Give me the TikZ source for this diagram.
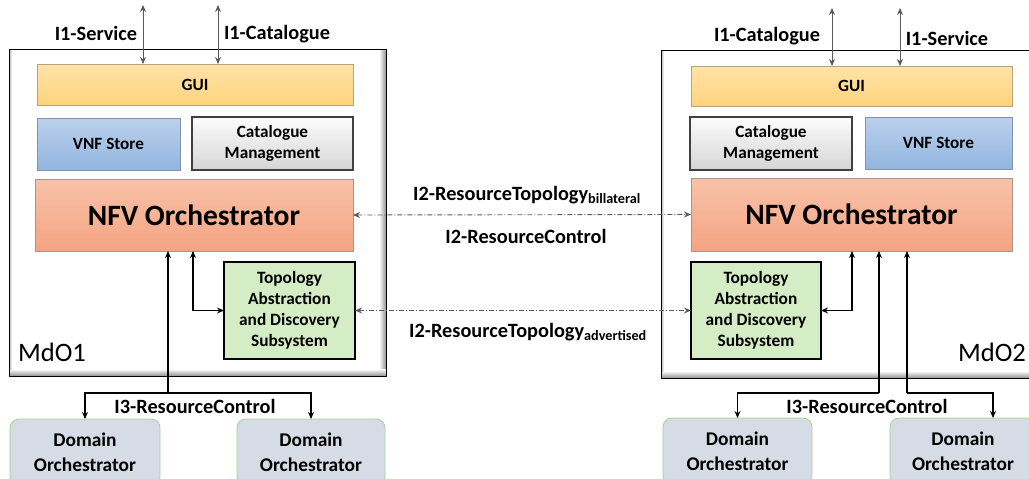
\documentclass[tikz,border=0pt]{standalone}
\usepackage{fontspec}
\setmainfont{Carlito}
\usetikzlibrary{arrows.meta,calc}

\definecolor{guiTop}{HTML}{FFE3A8}
\definecolor{guiBot}{HTML}{FFD37C}
\definecolor{guiLine}{HTML}{B8A27A}
\definecolor{vnfTop}{HTML}{BBD0EB}
\definecolor{vnfBot}{HTML}{92B5E0}
\definecolor{vnfLine}{HTML}{7F93AE}
\definecolor{catTop}{HTML}{FBFBFB}
\definecolor{catBot}{HTML}{D6D6D6}
\definecolor{nfvTop}{HTML}{F8C2A8}
\definecolor{nfvBot}{HTML}{F4A482}
\definecolor{nfvLine}{HTML}{A8958A}
\definecolor{topoFill}{HTML}{D5EDC5}
\definecolor{domFill}{HTML}{D6DCE5}
\definecolor{domLine}{HTML}{A9D18E}
\definecolor{linkGrey}{HTML}{5A5A5A}
\definecolor{bevel}{HTML}{9A9A9A}

\tikzset{
  base/.style={rectangle, anchor=north west, outer sep=0pt, inner sep=2pt,
    align=center, text=black, font=\fontsize{17.2}{21}\selectfont\bfseries},
  mdo/.style={rectangle, anchor=north west, outer sep=0pt, draw=black, line width=1pt, fill=white},
  guibox/.style={base, draw=guiLine, line width=0.8pt, top color=guiTop, bottom color=guiBot},
  vnfbox/.style={base, draw=vnfLine, line width=0.8pt, top color=vnfTop, bottom color=vnfBot},
  catbox/.style={base, draw=black!75, line width=1.8pt, top color=catTop, bottom color=catBot},
  nfvbox/.style={base, draw=nfvLine, line width=0.8pt, top color=nfvTop, bottom color=nfvBot,
    font=\fontsize{29.5}{34}\selectfont\bfseries},
  topobox/.style={base, draw=black, line width=2pt, fill=topoFill, font=\fontsize{17.3}{21}\selectfont\bfseries},
  dombox/.style={base, anchor=north, draw=domLine, line width=0.8pt, fill=domFill,
    rounded corners=9pt, minimum height=66pt, font=\fontsize{19.4}{25}\selectfont\bfseries},
  lbl/.style={font=\fontsize{20.3}{23}\selectfont\bfseries, inner sep=1pt},
  mdolbl/.style={font=\fontsize{26.6}{30}\selectfont, inner sep=1pt},
  tip/.style={-{Stealth[length=7pt,width=6pt]}},
  ext/.style={{Stealth[length=7pt,width=6pt]}-{Stealth[length=7pt,width=6pt]}, draw=linkGrey, line width=0.9pt},
  ctl/.style={draw=black, line width=1.4pt},
  peer/.style={{Stealth[length=7pt,width=6pt]}-{Stealth[length=7pt,width=6pt]}, draw=linkGrey,
    line width=0.9pt, dash pattern=on 5pt off 2pt on 1pt off 2pt},
}

% bevelled inner edge of an MdO frame: grey bands inside its right, bottom and left sides
\newcommand{\mdobevel}[1]{%
  \shade[left color=white, right color=bevel] ($(#1.north east)+(-7,1)$) rectangle ($(#1.south east)+(-0.5,-0.5)$);
  \shade[top color=white, bottom color=bevel] ($(#1.south west)+(1,-7)$) rectangle ($(#1.south east)+(-0.5,-0.5)$);
  \shade[left color=black!25, right color=white] ($(#1.north west)+(0.5,0.5)$) rectangle ($(#1.south west)+(3,-7)$);
  \draw[black, line width=1pt] (#1.north west) rectangle (#1.south east);
}

\begin{document}
\begin{tikzpicture}[x=1pt,y=-1pt]
\useasboundingbox (0,0) rectangle (1029,479);
\clip (0,0) rectangle (1029,479);

% ---------- MdO1 ----------
\node[mdo, minimum width=377pt, minimum height=327pt] (mdoA) at (9,49) {};
\mdobevel{mdoA}
\node[guibox, minimum width=316pt, minimum height=41pt] (guiA) at (37,64) {GUI};
\node[vnfbox, minimum width=143pt, minimum height=52pt] (vnfA) at (37,118) {VNF Store};
\node[catbox, minimum width=161pt, minimum height=53pt] (catA) at (192,117) {Catalogue\\Management};
\node[nfvbox, minimum width=318pt, minimum height=72pt] (nfvA) at (35,179) {NFV Orchestrator};
\node[topobox, minimum width=131pt, minimum height=97pt] (topA) at (224,262) {Topology\\Abstraction\\and Discovery\\Subsystem};
\node[mdolbl] (mdoAlbl) at (52,352) {MdO1};

% ---------- MdO2 ----------
\node[mdo, minimum width=380pt, minimum height=328pt] (mdoB) at (661,50) {};
\mdobevel{mdoB}
\node[guibox, minimum width=321pt, minimum height=40pt] (guiB) at (691,66) {GUI};
\node[catbox, minimum width=162pt, minimum height=53pt] (catB) at (690,117) {Catalogue\\Management};
\node[vnfbox, minimum width=147pt, minimum height=52pt] (vnfB) at (865,117) {VNF Store};
\node[nfvbox, minimum width=321pt, minimum height=73pt] (nfvB) at (691,178) {NFV Orchestrator};
\node[topobox, minimum width=130pt, minimum height=97pt] (topB) at (691,262) {Topology\\Abstraction\\and Discovery\\Subsystem};
\node[mdolbl] (mdoBlbl) at (992,352) {MdO2};

% ---------- domain orchestrators ----------
\node[dombox, minimum width=150pt] (domA1) at (85,419) {Domain\\Orchestrator};
\node[dombox, minimum width=148pt] (domA2) at (311,419) {Domain\\Orchestrator};
\node[dombox, minimum width=149pt] (domB1) at (737.5,418) {Domain\\Orchestrator};
\node[dombox, minimum width=146pt] (domB2) at (963,418) {Domain\\Orchestrator};

% ---------- I1 interfaces ----------
\coordinate (svcA) at (143,5);
\coordinate (catTopA) at (218,5);
\coordinate (catTopB) at (832,8);
\coordinate (svcB) at (900,8);
\draw[ext] (svcA) -- (svcA |- guiA.north);
\draw[ext] (catTopA) -- (catTopA |- guiA.north);
\draw[ext] (catTopB) -- (catTopB |- guiB.north);
\draw[ext] (svcB) -- (svcB |- guiB.north);
\node[lbl] (i1sA) at (96,33) {I1-Service};
\node[lbl] (i1cA) at (277,34) {I1-Catalogue};
\node[lbl] (i1cB) at (767,36) {I1-Catalogue};
\node[lbl] (i1sB) at (947,38) {I1-Service};

% ---------- NFVO <-> topology subsystem ----------
\coordinate (ntA) at (193,0);
\coordinate (ntB) at (852,0);
\draw[ctl, tip] (ntA |- topA.west) -- (topA.west);
\draw[ctl, tip] (ntA |- topA.west) -- (ntA |- nfvA.south);
\draw[ctl, tip] (ntB |- topB.east) -- (topB.east);
\draw[ctl, tip] (ntB |- topB.east) -- (ntB |- nfvB.south);

% ---------- I3 towards domain orchestrators ----------
\coordinate (trA) at (168,393);
\draw[ctl, tip] (trA) -- (trA |- nfvA.south);
\draw[ctl, tip] (trA) -| (domA1.north);
\draw[ctl, tip] (trA) -| (domA2.north);
\node[lbl] (i3A) at (195,406) {I3-ResourceControl};

\coordinate (trB1) at (879,393);
\coordinate (trB2) at (907,393);
\draw[ctl, tip] (trB1) -- (trB1 |- nfvB.south);
\draw[ctl, tip] (trB1) -| (domB1.north);
\draw[ctl, tip] (trB2) -- (trB2 |- nfvB.south);
\draw[ctl, tip] (trB2) -| ($(domB2.north)+(30,0)$);
\node[lbl] (i3B) at (867,406) {I3-ResourceControl};

% ---------- I2 between the two MdOs ----------
\draw[peer] (nfvA.east) -- (nfvB.west);
\draw[peer] (topA.east) -- (topB.west);
\node[lbl] (i2tb) at (527,195) {I2-ResourceTopology\textsubscript{billateral}};
\node[lbl] (i2rc) at (526,236) {I2-ResourceControl};
\node[lbl] (i2ta) at (528,332) {I2-ResourceTopology\textsubscript{advertised}};
\end{tikzpicture}
\end{document}
